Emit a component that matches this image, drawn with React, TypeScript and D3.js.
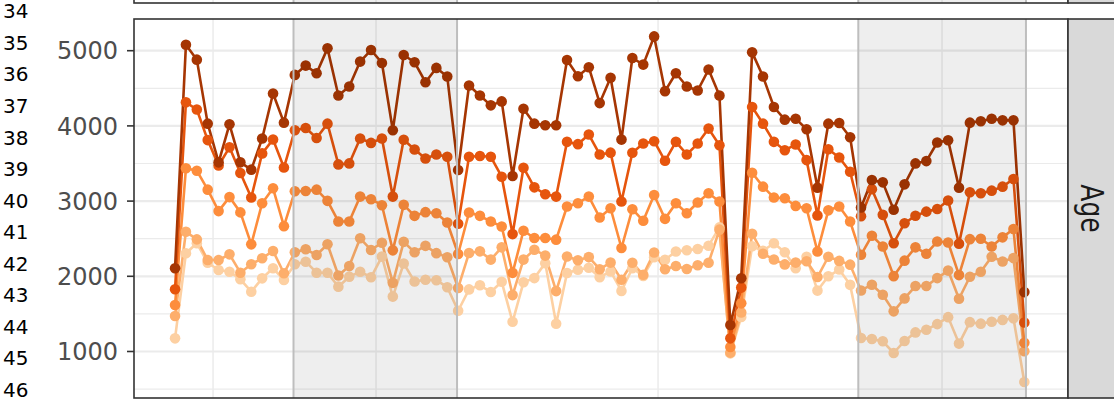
import * as d3 from "d3";
import { useEffect, useRef } from "react";

// weekly values, index 0..78, darkest series first
const seriesDark = [
    2107, 5080, 4881, 4030, 3515, 4021, 3515, 3418, 3833, 4430,
    4043, 4678, 4802, 4700, 5031, 4405, 4524, 4855, 5009, 4837,
    3942, 4943, 4846, 4581, 4771, 4656, 3413, 4537, 4405, 4273,
    4326, 3333, 4229, 4030, 4008, 4008, 4877, 4661, 4780, 4303,
    4640, 3818, 4903, 4815, 5190, 4462, 4700, 4524, 4471, 4749,
    4405, 1352, 1975, 4978, 4656, 4251, 4083, 4096, 3955, 3179,
    4030, 4039, 3850, 2915, 3280, 3249, 2884, 3223, 3501, 3532,
    3779, 3810, 3179, 4043, 4061, 4096, 4074, 4074, 1790,
];
const seriesHigh = [
    1827, 4313, 4218, 3811, 3473, 3715, 3373, 3048, 3634, 3820,
    3446, 3943, 3973, 3840, 4030, 3488, 3501, 3832, 3774, 3832,
    3060, 3815, 3686, 3567, 3620, 3589, 2698, 3589, 3600, 3589,
    3324, 2561, 3444, 3183, 3091, 3060, 3788, 3757, 3885, 3620,
    3644, 2994, 3642, 3765, 3796, 3536, 3788, 3620, 3765, 3964,
    3743, 1175, 1850, 4251, 4030, 3788, 3677, 3752, 3545, 2810,
    3690, 3580, 3391, 2800, 3157, 2817, 2440, 2706, 2805, 2860,
    2894, 3008, 2434, 3117, 3104, 3139, 3192, 3294, 1385,
];
const seriesMid = [
    1618, 3436, 3404, 3152, 2867, 3053, 2850, 2425, 2972, 3170,
    2667, 3130, 3135, 3152, 3003, 2729, 2729, 3060, 3025, 2945,
    2345, 2950, 2804, 2853, 2839, 2716, 2297, 2848, 2804, 2729,
    2663, 2046, 2606, 2509, 2509, 2487, 2928, 2972, 3060, 2782,
    2905, 2376, 2892, 2738, 3082, 2764, 2972, 2839, 2981, 3104,
    2994, 1060, 1640, 3377, 3192, 3047, 3038, 2936, 2905, 2330,
    2877, 2928, 2729, 2286, 2540, 2396, 2002, 2208, 2385, 2300,
    2462, 2450, 2016, 2494, 2500, 2396, 2518, 2628, 1115,
];
const seriesLow = [
    1472, 2593, 2491, 2217, 2217, 2292, 2048, 2160, 2240, 2337,
    2040, 2320, 2359, 2283, 2426, 2010, 2137, 2505, 2350, 2447,
    1913, 2458, 2320, 2405, 2308, 2253, 1845, 2310, 2332, 2222,
    2385, 1750, 2222, 2354, 2275, 1803, 2264, 2213, 2255, 2094,
    2182, 1954, 2180, 2020, 2316, 2094, 2136, 2098, 2147, 2180,
    2620, 985, 1520, 2566, 2300, 2224, 2158, 2182, 2200, 1990,
    2260, 2205, 2155, 1812, 1888, 1755, 1534, 1706, 1870, 1870,
    1976, 2076, 1702, 1994, 2060, 2260, 2197, 2242, 1003,
];
const seriesLight = [
    1175, 2306, 2440, 2180, 2084, 2061, 1960, 1795, 1973, 2107,
    1951, 2160, 2194, 2048, 2048, 1862, 1995, 2061, 1987, 2262,
    1730, 2170, 1930, 1954, 1948, 1855, 1542, 1826, 1880, 1792,
    1927, 1395, 1920, 1976, 2175, 1368, 2043, 2087, 2114, 1988,
    2064, 1806, 2107, 2004, 2253, 2220, 2330, 2347, 2363, 2407,
    2650, 975, 1460, 2400, 2340, 2440, 2320, 2107, 2260, 1810,
    2000, 2090, 1886, 1180, 1166, 1136, 980, 1140, 1254, 1290,
    1364, 1457, 1105, 1390, 1370, 1395, 1420, 1441, 594,
];

// drawn lightest first so the dark line sits on top
const seriesList = [seriesLight, seriesLow, seriesMid, seriesHigh, seriesDark];
const seriesColors = ["#FDD0A2", "#FDAE6B", "#FD8D3C", "#E6550D", "#A63603"];

const yTicks = [1000, 2000, 3000, 4000, 5000];
const yMinor = [500, 1500, 2500, 3500, 4500];
const xGrid = [3.49, 18.46, 44.36, 70.44];
const shadedBands = [[10.88, 25.9], [62.75, 78.15]];
const rowLabels = ["34", "35", "36", "37", "38", "39", "40", "41", "42", "43", "44", "45", "46"];
const stripLabel = "Age";

const FONT = "'DejaVu Sans', sans-serif";

const App = () => {
    const ref = useRef<SVGSVGElement | null>(null);

    useEffect(() => {
        if (!ref.current) return;

        const panel = { left: 134, right: 1068, top: 19, bottom: 398 };

        const svg = d3.select(ref.current);
        svg.selectAll("*").remove();

        const x = d3.scaleLinear().domain([-3.77, 82.01]).range([panel.left, panel.right]);
        const y = d3.scaleLinear().domain([381.6, 5421.5]).range([panel.bottom, panel.top]);

        // leftover row labels from the panel to the left
        const rows = d3.scalePoint().domain(rowLabels).range([18.3, 397]);
        svg.append("g")
            .selectAll("text")
            .data(rowLabels)
            .join("text")
            .attr("x", 3)
            .attr("y", d => rows(d)!)
            .style("font-family", FONT)
            .style("font-size", "20px")
            .attr("fill", "#000")
            .text(d => d);

        // upper panel (only its bottom edge is visible)
        const upper = svg.append("g");
        upper.append("rect")
            .attr("x", panel.left).attr("y", -20)
            .attr("width", panel.right - panel.left).attr("height", 23)
            .attr("fill", "#fff");
        upper.selectAll(".ug")
            .data(xGrid)
            .join("line")
            .attr("x1", d => x(d)).attr("x2", d => x(d))
            .attr("y1", -20).attr("y2", 3)
            .attr("stroke", "#EBEBEB").attr("stroke-width", 1.5);
        upper.selectAll(".ub")
            .data(shadedBands)
            .join("rect")
            .attr("x", d => x(d[0])).attr("y", -20)
            .attr("width", d => x(d[1]) - x(d[0])).attr("height", 23)
            .attr("fill", "#000").attr("fill-opacity", 0.065);
        upper.selectAll(".ue")
            .data(shadedBands.flat())
            .join("line")
            .attr("x1", d => x(d)).attr("x2", d => x(d))
            .attr("y1", -20).attr("y2", 3)
            .attr("stroke", "#BEBEBE").attr("stroke-width", 2);
        upper.append("rect")
            .attr("x", panel.left).attr("y", -20)
            .attr("width", panel.right - panel.left).attr("height", 23)
            .attr("fill", "none").attr("stroke", "#333").attr("stroke-width", 1.6);
        upper.append("rect")
            .attr("x", panel.right).attr("y", -20)
            .attr("width", 80).attr("height", 23)
            .attr("fill", "#D9D9D9").attr("stroke", "#333").attr("stroke-width", 1.6);

        // main panel background + grid
        const content = svg.append("g");
        content.append("rect")
            .attr("x", panel.left).attr("y", panel.top)
            .attr("width", panel.right - panel.left).attr("height", panel.bottom - panel.top)
            .attr("fill", "#fff");

        content.selectAll(".minor")
            .data(yMinor)
            .join("line")
            .attr("x1", panel.left).attr("x2", panel.right)
            .attr("y1", d => y(d)).attr("y2", d => y(d))
            .attr("stroke", "#EBEBEB").attr("stroke-width", 1.2);
        content.selectAll(".major")
            .data(yTicks)
            .join("line")
            .attr("x1", panel.left).attr("x2", panel.right)
            .attr("y1", d => y(d)).attr("y2", d => y(d))
            .attr("stroke", "#EBEBEB").attr("stroke-width", 2.2);
        content.selectAll(".vgrid")
            .data(xGrid)
            .join("line")
            .attr("x1", d => x(d)).attr("x2", d => x(d))
            .attr("y1", panel.top).attr("y2", panel.bottom)
            .attr("stroke", "#EBEBEB").attr("stroke-width", 1.5);

        // lines then points
        const line = d3.line<number>()
            .x((_, i) => x(i))
            .y(d => y(d));

        content.selectAll(".series")
            .data(seriesList)
            .join("path")
            .attr("d", d => line(d))
            .attr("fill", "none")
            .attr("stroke", (_, i) => seriesColors[i])
            .attr("stroke-width", 2.6)
            .attr("stroke-linejoin", "round");

        seriesList.forEach((s, si) => {
            content.append("g")
                .selectAll("circle")
                .data(s)
                .join("circle")
                .attr("cx", (_, i) => x(i))
                .attr("cy", d => y(d))
                .attr("r", 5.3)
                .attr("fill", seriesColors[si]);
        });

        // shaded periods
        content.selectAll(".band")
            .data(shadedBands)
            .join("rect")
            .attr("x", d => x(d[0])).attr("y", panel.top)
            .attr("width", d => x(d[1]) - x(d[0])).attr("height", panel.bottom - panel.top)
            .attr("fill", "#000").attr("fill-opacity", 0.065);
        content.selectAll(".edge")
            .data(shadedBands.flat())
            .join("line")
            .attr("x1", d => x(d)).attr("x2", d => x(d))
            .attr("y1", panel.top).attr("y2", panel.bottom)
            .attr("stroke", "#BEBEBE").attr("stroke-width", 2);

        content.append("rect")
            .attr("x", panel.left).attr("y", panel.top)
            .attr("width", panel.right - panel.left).attr("height", panel.bottom - panel.top)
            .attr("fill", "none").attr("stroke", "#333").attr("stroke-width", 1.6);

        // y axis
        const axis = svg.append("g");
        axis.selectAll("line")
            .data(yTicks)
            .join("line")
            .attr("x1", panel.left - 7).attr("x2", panel.left)
            .attr("y1", d => y(d)).attr("y2", d => y(d))
            .attr("stroke", "#333").attr("stroke-width", 1.6);
        axis.selectAll("text")
            .data(yTicks)
            .join("text")
            .attr("x", 118)
            .attr("y", d => y(d))
            .attr("dy", "0.36em")
            .attr("text-anchor", "end")
            .style("font-family", FONT)
            .style("font-size", "24px")
            .attr("fill", "#4D4D4D")
            .text(d => d);

        // facet strip
        svg.append("rect")
            .attr("x", panel.right).attr("y", panel.top)
            .attr("width", 80).attr("height", panel.bottom - panel.top)
            .attr("fill", "#D9D9D9").attr("stroke", "#333").attr("stroke-width", 1.6);
        svg.append("text")
            .attr("transform", `translate(1081,${(panel.top + panel.bottom) / 2}) rotate(90) scale(1,1.3)`)
            .attr("text-anchor", "middle")
            .style("font-family", FONT)
            .style("font-size", "25px")
            .attr("fill", "#1A1A1A")
            .text(stripLabel);
    }, []);

    return (
        <svg
            ref={ref}
            width={1114}
            height={401}
            style={{ position: "absolute", left: 0, top: 0, background: "#fff" }}
        />
    );
};

export default App;
